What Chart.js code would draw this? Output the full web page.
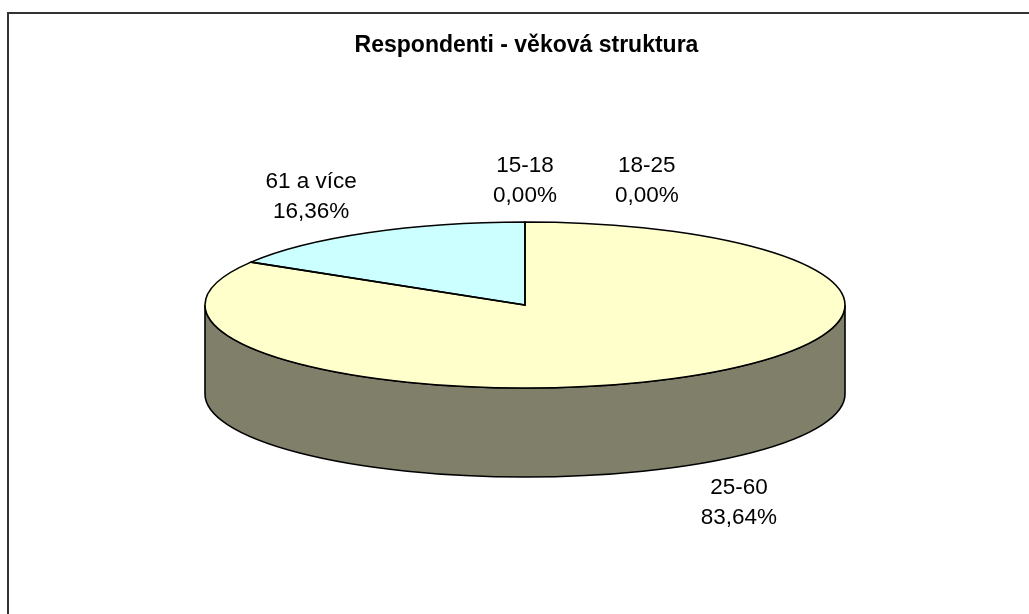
<!DOCTYPE html>
<html lang="cs">
<head>
<meta charset="utf-8">
<title>Respondenti - věková struktura</title>
<script src="https://cdn.jsdelivr.net/npm/chart.js@4.4.1/dist/chart.umd.min.js"></script>
<style>
  html, body { margin: 0; padding: 0; background: #fff; overflow: hidden; }
  #wrap { position: relative; width: 1029px; height: 614px; }
  #frame { position: absolute; left: 7px; top: 12px; width: 1100px; height: 700px;
           border-left: 2px solid #333; border-top: 2px solid #333; }
  canvas { position: absolute; left: 0; top: 0; }
</style>
</head>
<body>
<div id="wrap">
  <div id="frame"></div>
  <canvas id="age-chart" width="1029" height="614"></canvas>
</div>
<script>
// age groups and their share of respondents (%)
const categories = ['15-18', '18-25', '25-60', '61 a více'];
const shares = [0, 0, 83.64, 16.36];

const fmtPct = v => v.toFixed(2).replace('.', ',') + '%';

// squashes the flat pie into an ellipse and adds the side wall + labels
const pie3d = {
  id: 'pie3d',
  beforeDatasetsDraw(chart, args, opts) {
    const ctx = chart.ctx;
    const arcs = chart.getDatasetMeta(0).data;
    const R = arcs[0].outerRadius, cx = arcs[0].x, cy = arcs[0].y;
    const sy = opts.ry / R;
    const d = opts.depth / sy;
    this._t = () => {
      ctx.translate(opts.cx, opts.cy);
      ctx.scale(opts.rx / R, sy);
      ctx.translate(-cx, -cy);
    };

    // front side of the cylinder (angles 0..PI are the visible half)
    arcs.forEach((arc, i) => {
      const s = Math.max(arc.startAngle, 0);
      const e = Math.min(arc.endAngle, Math.PI);
      if (e <= s) return;
      ctx.save();
      this._t();
      ctx.beginPath();
      ctx.arc(cx, cy, R, s, e);
      ctx.lineTo(cx + R * Math.cos(e), cy + R * Math.sin(e) + d);
      ctx.arc(cx, cy + d, R, e, s, true);
      ctx.closePath();
      ctx.restore();
      ctx.fillStyle = opts.sideColors[i];
      ctx.fill();
      ctx.lineWidth = 1.6;
      ctx.strokeStyle = '#000';
      ctx.stroke();
    });

    ctx.save();
    this._t();
  },
  afterDatasetsDraw(chart, args, opts) {
    const ctx = chart.ctx;
    ctx.restore();
    const arcs = chart.getDatasetMeta(0).data;
    const R = arcs[0].outerRadius, cx = arcs[0].x, cy = arcs[0].y;

    // slice outlines, stroked without the squash so the line stays even
    arcs.forEach(arc => {
      if (arc.endAngle - arc.startAngle <= 0) return;
      ctx.save();
      this._t();
      ctx.beginPath();
      ctx.moveTo(cx, cy);
      ctx.arc(cx, cy, R, arc.startAngle, arc.endAngle);
      ctx.closePath();
      ctx.restore();
      ctx.lineWidth = 1.6;
      ctx.strokeStyle = '#000';
      ctx.stroke();
    });

    // data labels
    ctx.save();
    ctx.font = '22.5px "Liberation Sans", Arial, sans-serif';
    ctx.fillStyle = '#000';
    ctx.textAlign = 'center';
    ctx.textBaseline = 'middle';
    const lineH = 30;
    const placed = [];
    arcs.forEach((arc, i) => {
      const mid = (arc.startAngle + arc.endAngle) / 2;
      const c = Math.cos(mid), s = Math.sin(mid);
      let x = opts.cx + c * opts.rx * opts.labelFx;
      const y = opts.cy + s * opts.ry * opts.labelFy + (s > 0.05 ? opts.depth : 0);
      const lines = [categories[i], fmtPct(shares[i])];
      const w = Math.max(...lines.map(t => ctx.measureText(t).width));
      const h = lines.length * lineH;
      let hit = true;
      while (hit) {
        hit = false;
        for (const p of placed) {
          if (Math.abs(p.x - x) < (p.w + w) / 2 && Math.abs(p.y - y) < (p.h + h) / 2) {
            x = p.x + p.w / 2 + w / 2 + 58;
            hit = true;
          }
        }
      }
      placed.push({ x, y, w, h });
      lines.forEach((t, k) => {
        ctx.fillText(t, x, y + (k - (lines.length - 1) / 2) * lineH);
      });
    });
    ctx.restore();
  }
};

const ctx = document.getElementById('age-chart').getContext('2d');
new Chart(ctx, {
  type: 'pie',
  data: {
    labels: categories,
    datasets: [{
      data: shares,
      backgroundColor: ['#9999ff', '#993366', '#ffffcc', '#ccffff'],
      borderWidth: 0,
      clip: false
    }]
  },
  options: {
    responsive: false,
    animation: false,
    events: [],
    layout: { padding: { left: 24, top: 13, bottom: 20 } },
    plugins: {
      legend: { display: false },
      tooltip: { enabled: false },
      title: {
        display: true,
        text: 'Respondenti - věková struktura',
        color: '#000',
        font: { family: '"Liberation Sans", Arial, sans-serif', size: 23, weight: 'bold' },
        padding: { top: 19, bottom: 10 }
      },
      pie3d: {
        cx: 525, cy: 305, rx: 320, ry: 83, depth: 89,
        sideColors: ['#4d4d80', '#4d1f33', '#80806a', '#668080'],
        labelFx: 1.36, labelFy: 1.5
      }
    }
  },
  plugins: [pie3d]
});
</script>
</body>
</html>
